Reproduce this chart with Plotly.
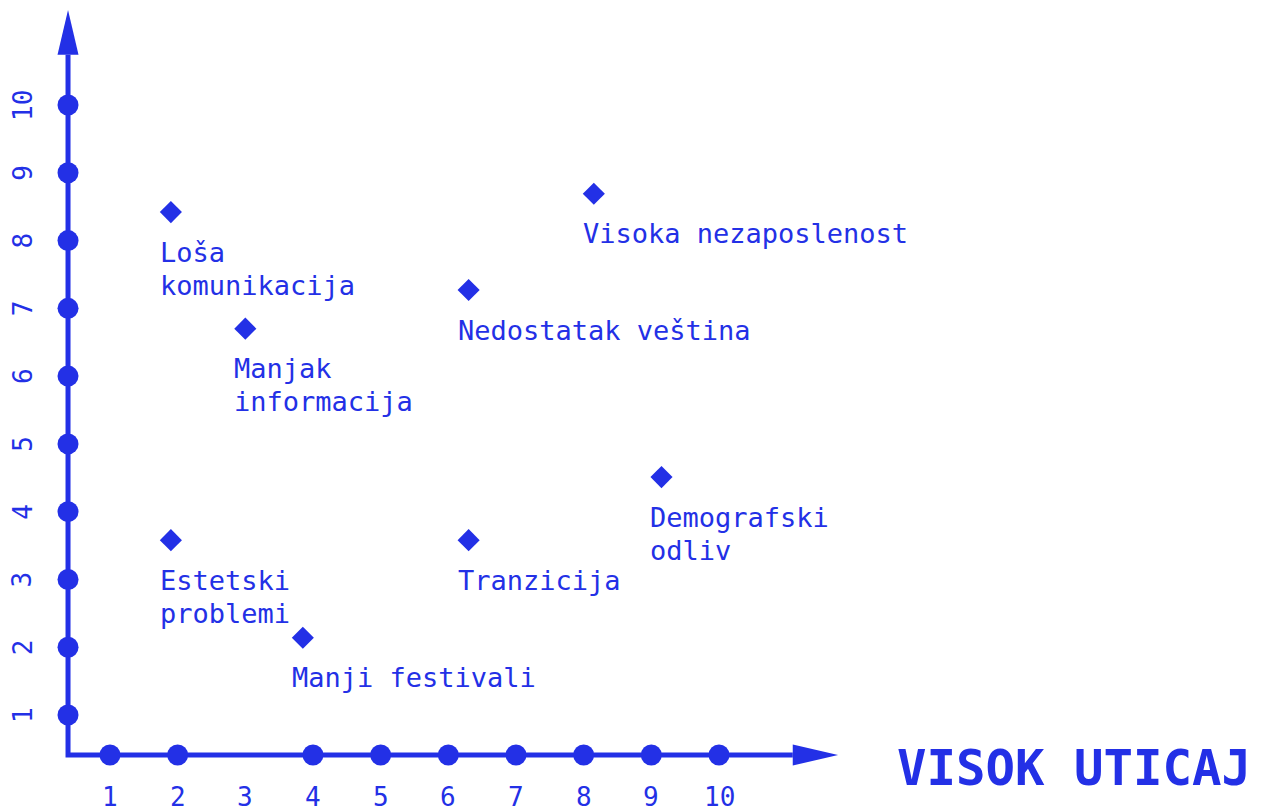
import plotly.graph_objects as go

BLUE = "#2330e6"
FONT = "DejaVu Sans Mono"

# data
labels = ["Loša<br>komunikacija", "Manjak<br>informacija", "Visoka nezaposlenost",
          "Nedostatak veština", "Demografski<br>odliv", "Estetski<br>problemi",
          "Tranzicija", "Manji festivali"]
x_vals = [1.9, 3.0, 8.15, 6.3, 9.15, 1.9, 6.3, 3.85]
y_vals = [8.42, 6.70, 8.69, 7.27, 4.51, 3.58, 3.58, 2.14]

x_tick_vals = [1, 2, 3, 4, 5, 6, 7, 8, 9, 10]
x_tick_labels = ["1", "2", "3", "4", "5", "6", "7", "8", "9", "10"]
x_dot_vals = [1, 2, 4, 5, 6, 7, 8, 9, 10]
y_tick_vals = [1, 2, 3, 4, 5, 6, 7, 8, 9, 10]
y_tick_labels = ["1", "2", "3", "4", "5", "6", "7", "8", "9", "10"]
x_axis_title = "VISOK UTICAJ"

# axis geometry (data units)
ax_x0 = 0.38
ax_y0 = 0.41
x_arrow_base, x_arrow_tip = 11.09, 11.76
y_arrow_base, y_arrow_tip = 10.74, 11.40
arrow_half = 0.155

fig = go.Figure()

# axis lines
fig.add_trace(go.Scatter(x=[ax_x0, ax_x0, x_arrow_base], y=[y_arrow_base, ax_y0, ax_y0],
                         mode="lines", line=dict(color=BLUE, width=5), hoverinfo="skip"))
# tick dots
fig.add_trace(go.Scatter(x=x_dot_vals, y=[ax_y0] * len(x_dot_vals), mode="markers",
                         marker=dict(color=BLUE, size=21), hoverinfo="skip"))
fig.add_trace(go.Scatter(x=[ax_x0] * len(y_tick_vals), y=y_tick_vals, mode="markers",
                         marker=dict(color=BLUE, size=21), hoverinfo="skip"))
# points
fig.add_trace(go.Scatter(x=x_vals, y=y_vals, mode="markers",
                         marker=dict(color=BLUE, size=17, symbol="diamond"),
                         text=labels, hoverinfo="text"))

# arrowheads
fig.add_shape(type="path",
              path=f"M {x_arrow_base} {ax_y0 - arrow_half} L {x_arrow_tip} {ax_y0} L {x_arrow_base} {ax_y0 + arrow_half} Z",
              fillcolor=BLUE, line=dict(width=0))
fig.add_shape(type="path",
              path=f"M {ax_x0 - arrow_half} {y_arrow_base} L {ax_x0} {y_arrow_tip} L {ax_x0 + arrow_half} {y_arrow_base} Z",
              fillcolor=BLUE, line=dict(width=0))

# point labels (one annotation per line for tight line spacing)
for xv, yv, lab in zip(x_vals, y_vals, labels):
    for i, line in enumerate(lab.split("<br>")):
        fig.add_annotation(x=xv, y=yv, text=line, showarrow=False, xanchor="left", yanchor="middle",
                           align="left", xshift=-13, yshift=-40 - 33 * i,
                           font=dict(family=FONT, size=27, color=BLUE))

# tick labels
for v, t in zip(x_tick_vals, x_tick_labels):
    fig.add_annotation(x=v, y=-0.21, text=t, showarrow=False,
                       font=dict(family=FONT, size=26, color=BLUE))
for v, t in zip(y_tick_vals, y_tick_labels):
    fig.add_annotation(x=-0.286, y=v, text=t, showarrow=False, textangle=-90,
                       font=dict(family=FONT, size=26, color=BLUE))

fig.add_annotation(x=15.24, y=0.204, text="<b>" + x_axis_title + "</b>", showarrow=False,
                   font=dict(family=FONT, size=49, color=BLUE))

fig.update_layout(
    width=1255, height=799, margin=dict(l=0, r=0, t=0, b=0),
    plot_bgcolor="white", paper_bgcolor="white", showlegend=False,
    xaxis=dict(range=[-0.507, 18.039], visible=False, fixedrange=True),
    yaxis=dict(range=[-0.357, 11.431], visible=False, fixedrange=True),
)

fig.write_html("out.html")
